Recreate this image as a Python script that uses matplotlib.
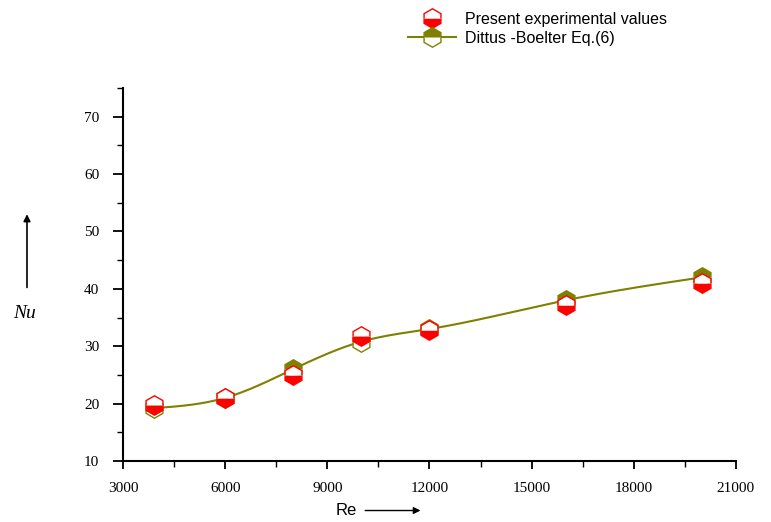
import numpy as np
import matplotlib.pyplot as plt
from matplotlib.ticker import MultipleLocator
from matplotlib.lines import Line2D

# data
re_exp = [3900, 6000, 8000, 10000, 12000, 16000, 20000]
nu_exp = [19.8, 21.0, 25.0, 31.7, 32.9, 37.2, 41.0]
re_db = [3900, 6000, 8000, 10000, 12000, 16000, 20000]
nu_db = [19.2, 21.0, 26.0, 30.8, 33.0, 38.0, 42.0]


def natural_spline(x, y, xs):
    x = np.asarray(x, float)
    y = np.asarray(y, float)
    n = len(x)
    h = np.diff(x)
    A = np.zeros((n, n))
    b = np.zeros(n)
    A[0, 0] = A[-1, -1] = 1
    for i in range(1, n - 1):
        A[i, i - 1] = h[i - 1]
        A[i, i] = 2 * (h[i - 1] + h[i])
        A[i, i + 1] = h[i]
        b[i] = 6 * ((y[i + 1] - y[i]) / h[i] - (y[i] - y[i - 1]) / h[i - 1])
    M = np.linalg.solve(A, b)
    k = np.clip(np.searchsorted(x, xs) - 1, 0, n - 2)
    t0 = x[k + 1] - xs
    t1 = xs - x[k]
    hk = h[k]
    return (M[k] * t0**3 / (6 * hk) + M[k + 1] * t1**3 / (6 * hk)
            + (y[k] / hk - M[k] * hk / 6) * t0
            + (y[k + 1] / hk - M[k + 1] * hk / 6) * t1)


olive = "#808000"
fig = plt.figure(figsize=(7.71, 5.22), dpi=100)
ax = fig.add_axes([0.1595, 0.1169, 0.795, 0.7146])

xs = np.linspace(re_db[0], re_db[-1], 400)
ax.plot(xs, natural_spline(re_db, nu_db, xs), color=olive, lw=1.5, zorder=2)
ax.plot(re_db, nu_db, ls="none", marker="h", ms=14, fillstyle="top",
        markerfacecolor=olive, markerfacecoloralt="white",
        markeredgecolor=olive, markeredgewidth=1, zorder=3)
ax.plot(re_exp, nu_exp, ls="none", marker="h", ms=14, fillstyle="bottom",
        markerfacecolor="red", markerfacecoloralt="white",
        markeredgecolor="red", markeredgewidth=1, zorder=4)

ax.set_xlim(3000, 21000)
ax.set_ylim(10, 75)
ax.xaxis.set_major_locator(MultipleLocator(3000))
ax.xaxis.set_minor_locator(MultipleLocator(1500))
ax.yaxis.set_major_locator(MultipleLocator(10))
ax.yaxis.set_minor_locator(MultipleLocator(5))
ax.spines["top"].set_visible(False)
ax.spines["right"].set_visible(False)
ax.spines["left"].set_linewidth(1.5)
ax.spines["bottom"].set_linewidth(1.5)
ax.tick_params(axis="y", which="major", direction="out", length=7, width=1.3, pad=10)
ax.tick_params(axis="y", which="minor", direction="out", length=4, width=1)
ax.tick_params(axis="x", which="major", direction="out", length=6, width=1.3, pad=9)
ax.tick_params(axis="x", which="minor", direction="out", length=4, width=1)
for lab in ax.get_xticklabels() + ax.get_yticklabels():
    lab.set_fontfamily("Liberation Serif")
    lab.set_fontsize(11)

# axis labels with arrows
fig.text(0.032, 0.40, "Nu", fontsize=14, fontstyle="italic",
         family="Liberation Serif", ha="center", va="center")
fig.add_artist(plt.Annotation("", xy=(0.035, 0.595), xytext=(0.035, 0.444),
                              xycoords="figure fraction",
                              arrowprops=dict(arrowstyle="-|>", color="black",
                                              lw=1.2, mutation_scale=10)))
fig.text(0.449, 0.022, "Re", fontsize=12, family="Liberation Sans",
         ha="center", va="center")
fig.add_artist(plt.Annotation("", xy=(0.549, 0.022), xytext=(0.47, 0.022),
                              xycoords="figure fraction",
                              arrowprops=dict(arrowstyle="-|>", color="black",
                                              lw=1.0, mutation_scale=10)))

# legend
h1 = Line2D([], [], ls="none", marker="h", ms=14, fillstyle="bottom",
            markerfacecolor="red", markerfacecoloralt="white",
            markeredgecolor="red")
h2 = Line2D([], [], color=olive, lw=1.5, marker="h", ms=14, fillstyle="top",
            markerfacecolor=olive, markerfacecoloralt="white",
            markeredgecolor=olive)
fig.legend([h1, h2], ["Present experimental values", "Dittus -Boelter Eq.(6)"],
           loc="upper left", bbox_to_anchor=(0.51, 1.005), frameon=False,
           prop={"family": "Liberation Sans", "size": 11.5},
           handlelength=3.0, handletextpad=0.6, labelspacing=0.25)

fig.savefig("out.png", dpi=100)
